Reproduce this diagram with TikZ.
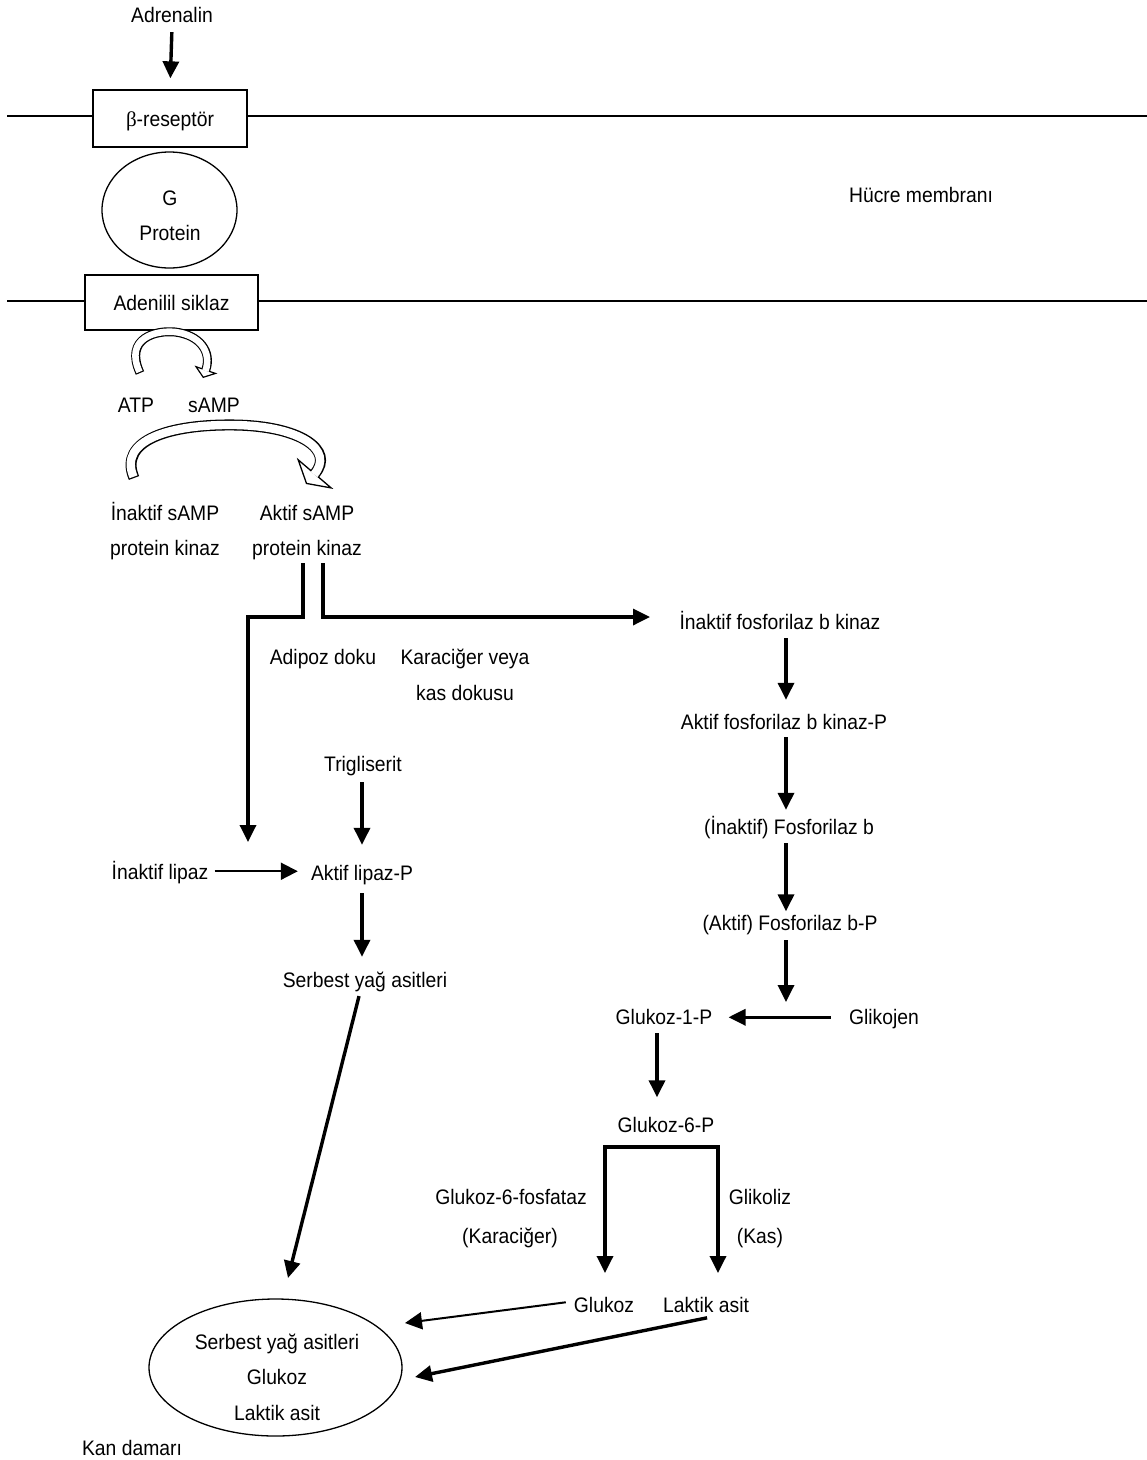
\documentclass[tikz,border=0pt]{standalone}
\usepackage{fontspec}
\setmainfont[FakeStretch=0.92]{Liberation Sans}
\newfontfamily\grkfont{Liberation Serif}
\usetikzlibrary{arrows.meta,shapes.geometric}
\begin{document}
\begin{tikzpicture}[x=1pt,y=-1pt,
  every node/.style={font=\fontsize{21}{25}\selectfont},
  t/.style={inner sep=0pt, text height=15pt, text depth=4.5pt, anchor=base, yshift=-7.5pt},
  membox/.style={draw, line width=1.3pt, inner sep=0pt, text height=15pt, text depth=0pt},
  oval/.style={draw, ellipse, line width=1.3pt, inner sep=0pt},
  mem/.style={line width=1.3pt},
  arr/.style={line width=3.4pt, -{Triangle[length=17pt,width=16pt]}},
  thinarr/.style={line width=2pt, -{Triangle[length=17pt,width=17pt]}},
  twoarr/.style={line width=3.4pt, {Triangle[length=17pt,width=16pt]}-{Triangle[length=17pt,width=16pt]}},
  hollowsmall/.style={line width=9pt, -{Triangle[length=9pt,width=24pt,fill=white,line width=1.2pt]}},
  hollowsmallin/.style={white, line width=6.6pt, shorten <=1.2pt, shorten >=7.5pt},
  hollowbig/.style={line width=11pt, -{Triangle[length=14pt,width=48pt,fill=white,line width=1.3pt]}},
  hollowbigin/.style={white, line width=8.4pt, shorten <=1.3pt, shorten >=12.5pt}
]
\useasboundingbox (0,0) rectangle (1147,1460);

% ---------- membrane part ----------
\node[t] (adr) at (172,15) {Adrenalin};
\node[membox, minimum width=154pt, minimum height=57pt] (rec) at (170,118.5) {{\grkfont β}-reseptör};
\node[oval, minimum width=135pt, minimum height=116pt] (gp) at (169.5,210) {};
\node[t] (gG) at (170,198) {G};
\node[t] (gProt) at (170,233) {Protein};
\node[t] (hm) at (921,195) {Hücre membranı};
\node[membox, minimum width=173pt, minimum height=55pt] (ac) at (171.5,302.5) {Adenilil siklaz};

\coordinate (m1l) at (7,116);  \coordinate (m1r) at (1147,116);
\coordinate (m2l) at (7,301);  \coordinate (m2r) at (1147,301);
\draw[mem] (m1l) -- (m1l -| rec.west);
\draw[mem] (rec.east |- m1r) -- (m1r);
\draw[mem] (m2l) -- (m2l -| ac.west);
\draw[mem] (ac.east |- m2r) -- (m2r);

\draw[arr, shorten <=5pt, shorten >=11pt] (adr.south) -- (rec.north);

% ---------- cAMP ----------
\node[t] (atp) at (136,405) {ATP};
\node[t] (samp) at (214,405) {sAMP};
\node[t] (ipk1) at (165,513) {İnaktif sAMP};
\node[t] (ipk2) at (165,548) {protein kinaz};
\node[t] (apk1) at (307,513) {Aktif sAMP};
\node[t] (apk2) at (307,548) {protein kinaz};

\coordinate (c1s) at (140,373); \coordinate (c1e) at (203,378);
\draw[hollowsmall] (c1s) .. controls (124,338) and (156,330) .. (175,332) .. controls (200,335) and (212,352) .. (c1e);
\draw[hollowsmallin] (c1s) .. controls (124,338) and (156,330) .. (175,332) .. controls (200,335) and (212,352) .. (c1e);

\coordinate (c2s) at (134,478); \coordinate (c2e) at (306,484);
\draw[hollowbig] (c2s) .. controls (118,440) and (170,424) .. (235,425) .. controls (300,426) and (335,450) .. (c2e);
\draw[hollowbigin] (c2s) .. controls (118,440) and (170,424) .. (235,425) .. controls (300,426) and (335,450) .. (c2e);

% ---------- split ----------
\coordinate (sL) at (303,563);
\coordinate (sR) at (323,563);
\coordinate (hy) at (0,617);
\coordinate (aL) at (248,842);
\coordinate (aR) at (650,617);
\draw[arr] (sL) -- (sL |- hy) -| (aL);
\draw[arr] (sR) |- (aR);

\node[t] (adp) at (323,657) {Adipoz doku};
\node[t] (kv1) at (465,657) {Karaciğer veya};
\node[t] (kv2) at (465,693) {kas dokusu};

% ---------- lipase branch ----------
\node[t] (tri) at (363,764) {Trigliserit};
\node[t] (il) at (160,872) {İnaktif lipaz};
\node[t] (al) at (362,873) {Aktif lipaz-P};
\node[t] (sya) at (365,980) {Serbest yağ asitleri};

\draw[arr, shorten <=6pt, shorten >=20.5pt] (tri.south -| al.south) -- (al.north);
\draw[thinarr, shorten <=6pt, shorten >=13pt] ([yshift=3pt]il.east) -- ([yshift=4pt]al.west);
\draw[arr, shorten <=8pt, shorten >=15.5pt] (al.south) -- (al.south |- sya.north);

% ---------- phosphorylase branch ----------
\coordinate (cR) at (786,0);
\node[t] (pbk) at (780,622) {İnaktif fosforilaz b kinaz};
\node[t] (apbk) at (784,722) {Aktif fosforilaz b kinaz-P};
\node[t] (ifb) at (789,827) {(İnaktif) Fosforilaz b};
\node[t] (afb) at (790,923) {(Aktif) Fosforilaz b-P};
\node[t] (g1p) at (664,1017) {Glukoz-1-P};
\node[t] (gly) at (884,1017) {Glikojen};
\node[t] (g6p) at (666,1125) {Glukoz-6-P};

\draw[arr, shorten <=4pt, shorten >=14.5pt] (pbk.south -| cR) -- (apbk.north -| cR);
\draw[arr, shorten <=3pt, shorten >=9.5pt] (apbk.south -| cR) -- (ifb.north -| cR);
\draw[arr, shorten <=4pt, shorten >=4pt] (ifb.south -| cR) -- (afb.north -| cR);
\coordinate (gx) at (786,1013);
\draw[arr, shorten <=5pt, shorten >=11pt] (afb.south -| cR) -- (gx);
\draw[arr, shorten <=18pt, shorten >=16pt] ([yshift=2pt]gly.west) -- ([yshift=2pt]g1p.east);

\coordinate (cG) at (657,0);
\draw[arr, shorten <=4pt, shorten >=20pt] (g1p.south -| cG) -- (g6p.north -| cG);

\coordinate (bl) at (605,1273);
\coordinate (br) at (718,1273);
\coordinate (bt) at (0,1147);
\draw[twoarr] (bl) -- (bl |- bt) -- (br |- bt) -- (br);

\node[t] (g6f) at (511,1197) {Glukoz-6-fosfataz};
\node[t] (kar) at (510,1236) {(Karaciğer)};
\node[t] (glk) at (760,1197) {Glikoliz};
\node[t] (kas) at (760,1236) {(Kas)};

\node[t] (glu) at (604,1305) {Glukoz};
\node[t] (lak) at (706,1305) {Laktik asit};

% ---------- blood ----------
\node[oval, minimum width=253pt, minimum height=137pt] (blood) at (275.5,1367.5) {};
\node[t] (b1) at (277,1342) {Serbest yağ asitleri};
\node[t] (b2) at (277,1377) {Glukoz};
\node[t] (b3) at (277,1413) {Laktik asit};
\node[t] (kan) at (132,1448) {Kan damarı};

\coordinate (e1) at (288,1278);
\coordinate (e2) at (405,1323);
\coordinate (e3) at (415,1377);
\draw[arr, shorten <=4pt] ([xshift=-5pt]sya.south) -- (e1);
\draw[thinarr, shorten <=8pt] ([yshift=6pt]glu.west) -- (e2);
\draw[arr, shorten <=3pt] ([xshift=4pt]lak.south) -- (e3);
\end{tikzpicture}
\end{document}
